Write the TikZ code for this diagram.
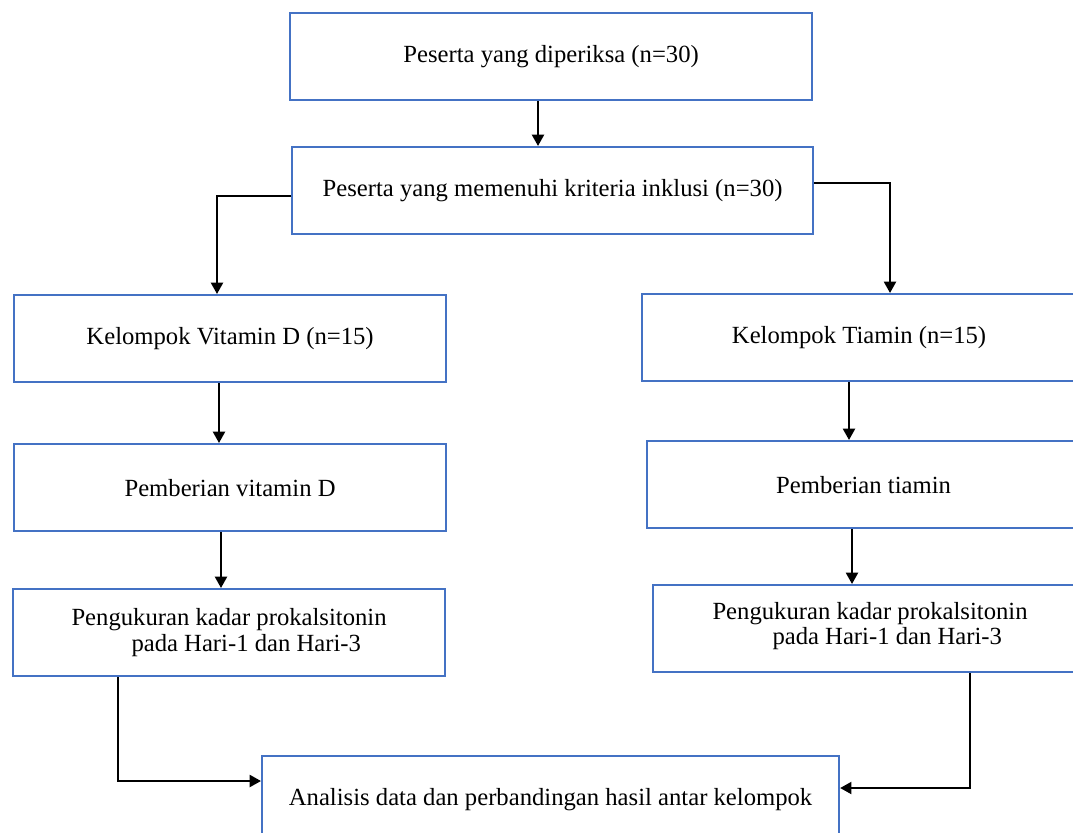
\documentclass[tikz,border=0pt]{standalone}
\usepackage{fontspec}
\setmainfont{Liberation Serif}
\usetikzlibrary{arrows.meta}
\definecolor{boxblue}{HTML}{4472C4}
\begin{document}
\begin{tikzpicture}[x=0.75pt,y=-0.75pt,
  box/.style={draw=boxblue, line width=1.6pt, rectangle, anchor=north west,
    minimum height={87*0.75pt}, inner sep=0pt, align=center,
    font=\fontsize{18.5}{19}\selectfont},
  arr/.style={draw=black, line width=1.6pt,
    -{Triangle[length=8.5pt,width=9pt]}}]
\useasboundingbox (0,0) rectangle (1073,832);
\clip (0,0) rectangle (1073,832);
\fill[white] (0,0) rectangle (1073,832);

\node[box, minimum width={522*0.75pt}] (b1) at (289,12) {Peserta yang diperiksa (n=30)};
\node[box, minimum width={521*0.75pt}] (b2) at (291,146) {Peserta yang memenuhi kriteria inklusi (n=30)};

\node[box, minimum width={432*0.75pt}] (v1) at (13,294) {Kelompok Vitamin D (n=15)};
\node[box, minimum width={432*0.75pt}] (v2) at (13,443) {Pemberian vitamin D};
\node[box, minimum width={432*0.75pt}, align=left] (v3) at (12,588) {Pengukuran kadar prokalsitonin\\\hspace*{45pt}pada Hari-1 dan Hari-3};

\node[box, minimum width={434*0.75pt}] (t1) at (641,293) {Kelompok Tiamin (n=15)};
\node[box, minimum width={433*0.75pt}] (t2) at (646,440) {Pemberian tiamin};
\node[box, minimum width={434*0.75pt}, align=left, text depth=8pt] (t3) at (652,584) {Pengukuran kadar prokalsitonin\\\hspace*{45pt}pada Hari-1 dan Hari-3};

\node[box, minimum width={577*0.75pt}] (an) at (261,755) {Analisis data dan perbandingan hasil antar kelompok};

\coordinate (c538) at (538,0);
\coordinate (c217) at (217,196);
\coordinate (c890) at (890,183);
\coordinate (c219) at (219,0);
\coordinate (c221) at (221,0);
\coordinate (c849) at (849,0);
\coordinate (c852) at (852,0);
\coordinate (c118) at (118,781);
\coordinate (c970) at (970,788);

\draw[arr] (b1.south -| c538) -- (b2.north -| c538);
\draw[arr] (b2.west |- c217) -- (c217) -- (v1.north -| c217);
\draw[arr] (b2.east |- c890) -- (c890) -- (t1.north -| c890);
\draw[arr] (v1.south -| c219) -- (v2.north -| c219);
\draw[arr] (v2.south -| c221) -- (v3.north -| c221);
\draw[arr] (t1.south -| c849) -- (t2.north -| c849);
\draw[arr] (t2.south -| c852) -- (t3.north -| c852);
\draw[arr] (v3.south -| c118) -- (c118) -- (an.west |- c118);
\draw[arr] (t3.south -| c970) -- (c970) -- (an.east |- c970);
\end{tikzpicture}
\end{document}
